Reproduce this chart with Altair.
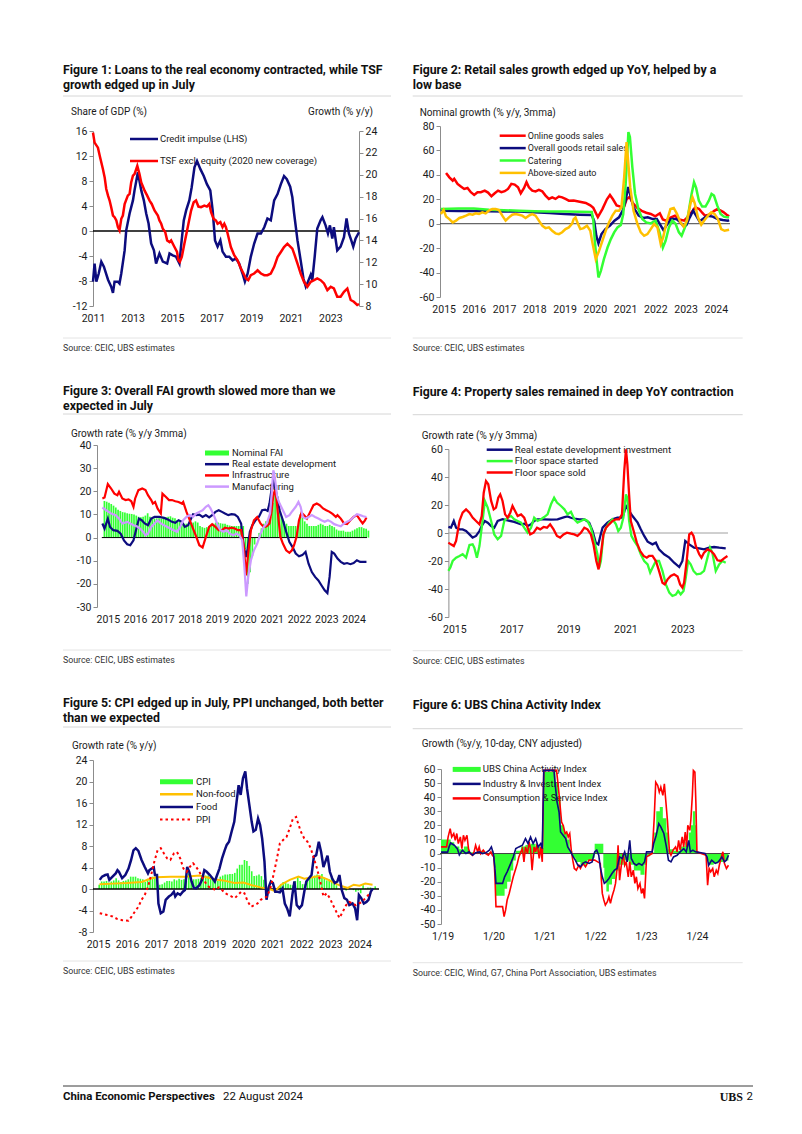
import altair as alt
import pandas as pd

# ======================= DATA =======================
# Figure 1: (decimal year, value)
credit_impulse = [(2011.00,-8.1),(2011.08,-5.2),(2011.17,-8.1),(2011.29,-6.8),(2011.42,-4.9),(2011.55,-5.7),(2011.76,-7.8),(2011.92,-8.9),(2012.01,-9.9),(2012.09,-8.1),(2012.26,-8.1),(2012.34,-8.4),(2012.43,-6.8),(2012.60,-3.1),(2012.68,0.1),(2012.85,2.8),(2013.02,4.9),(2013.10,6.5),(2013.27,9.4),(2013.44,6.5),(2013.57,4.9),(2013.69,2.8),(2013.81,1.2),(2013.94,-2.0),(2014.08,-3.1),(2014.19,-5.2),(2014.36,-3.6),(2014.53,-4.9),(2014.75,-5.2),(2014.87,-3.6),(2015.03,-3.9),(2015.20,-4.1),(2015.37,-5.2),(2015.45,-2.5),(2015.59,1.7),(2015.71,3.3),(2015.87,4.9),(2015.99,7.0),(2016.13,10.2),(2016.26,11.2),(2016.43,9.9),(2016.60,8.8),(2016.76,7.5),(2016.93,6.5),(2017.05,3.3),(2017.17,-1.5),(2017.30,-2.5),(2017.44,-1.5),(2017.55,-3.3),(2017.72,-4.1),(2017.89,-4.1),(2018.06,-4.7),(2018.23,-4.4),(2018.39,-5.2),(2018.56,-6.8),(2018.68,-8.1),(2018.82,-6.8),(2018.98,-4.1),(2019.15,-2.0),(2019.32,-0.4),(2019.49,-0.4),(2019.66,0.6),(2019.82,2.0),(2019.99,1.7),(2020.16,4.9),(2020.33,5.9),(2020.50,7.5),(2020.66,8.8),(2020.80,8.3),(2020.97,7.1),(2021.08,5.4),(2021.17,2.8),(2021.34,-1.5),(2021.50,-4.7),(2021.64,-7.6),(2021.76,-8.9),(2021.87,-8.1),(2022.01,-7.0),(2022.09,-7.8),(2022.21,-4.1),(2022.34,0.4),(2022.51,1.7),(2022.60,2.2),(2022.76,0.9),(2022.88,-0.4),(2022.98,0.9),(2023.10,-1.2),(2023.18,0.6),(2023.35,-3.1),(2023.52,-2.5),(2023.69,-1.0),(2023.82,2.0),(2023.94,-0.4),(2024.06,-1.5),(2024.16,-2.5),(2024.28,-1.2),(2024.45,-0.2)]
tsf_growth = [(2011.00,23.85),(2011.08,22.94),(2011.25,22.48),(2011.34,21.73),(2011.50,20.52),(2011.59,19.76),(2011.67,18.7),(2011.76,18.09),(2011.84,17.64),(2011.92,17.03),(2012.01,16.27),(2012.09,16.12),(2012.18,15.82),(2012.26,15.21),(2012.34,14.91),(2012.43,15.97),(2012.51,16.27),(2012.60,17.33),(2012.76,18.09),(2012.85,18.24),(2012.93,19.3),(2013.02,19.91),(2013.10,20.06),(2013.24,20.82),(2013.35,20.06),(2013.44,19.3),(2013.61,18.55),(2013.74,18.09),(2013.86,17.64),(2013.97,17.33),(2014.11,16.73),(2014.28,16.27),(2014.36,15.82),(2014.45,15.52),(2014.53,15.06),(2014.65,14.76),(2014.75,14.0),(2014.87,13.85),(2014.95,14.0),(2015.12,13.39),(2015.25,12.94),(2015.32,12.18),(2015.39,12.03),(2015.49,12.48),(2015.62,13.7),(2015.79,15.21),(2015.96,16.73),(2016.09,17.48),(2016.21,17.64),(2016.33,17.09),(2016.46,17.03),(2016.63,17.18),(2016.76,17.09),(2016.88,17.33),(2016.97,16.58),(2017.10,15.97),(2017.22,15.82),(2017.30,15.52),(2017.44,15.67),(2017.55,15.21),(2017.64,15.52),(2017.72,15.21),(2017.81,14.61),(2017.97,13.39),(2018.14,12.64),(2018.31,12.18),(2018.48,11.42),(2018.61,10.97),(2018.73,10.52),(2018.85,10.36),(2018.98,10.82),(2019.15,10.97),(2019.32,11.27),(2019.49,10.97),(2019.66,10.82),(2019.82,10.82),(2019.99,10.97),(2020.16,11.58),(2020.33,12.48),(2020.50,12.94),(2020.66,13.39),(2020.83,13.7),(2021.00,13.39),(2021.08,13.24),(2021.17,12.79),(2021.34,11.88),(2021.50,10.97),(2021.67,10.21),(2021.84,9.76),(2022.01,10.21),(2022.18,10.36),(2022.34,10.52),(2022.51,10.36),(2022.68,10.06),(2022.85,9.45),(2023.02,9.76),(2023.18,9.6),(2023.35,8.85),(2023.52,8.85),(2023.69,9.3),(2023.86,9.6),(2024.03,8.55),(2024.19,8.39),(2024.36,8.09),(2024.45,8.18)]

# Figure 2
online_sales = [(2015.08,41.6),(2015.19,38),(2015.30,35.3),(2015.35,36.7),(2015.46,32.6),(2015.57,30.4),(2015.68,28.5),(2015.79,29.3),(2015.90,25.8),(2016.01,23.6),(2016.12,25.8),(2016.23,25.8),(2016.36,27.1),(2016.47,25.5),(2016.58,22.5),(2016.69,24.9),(2016.80,27.1),(2016.91,25.8),(2017.02,26.6),(2017.13,28.5),(2017.24,32.6),(2017.35,32),(2017.46,29.8),(2017.55,24.9),(2017.66,29.3),(2017.74,34),(2017.82,29.8),(2017.93,27.1),(2018.04,26.5),(2018.15,27.7),(2018.26,26.6),(2018.37,23),(2018.48,20.3),(2018.59,21.6),(2018.70,20.3),(2018.81,22.2),(2018.92,21.6),(2019.03,20.3),(2019.14,18.9),(2019.3,19),(2019.5,18),(2019.7,17),(2019.85,15),(2019.95,13),(2020.1,5.5),(2020.25,12),(2020.4,20),(2020.5,23.5),(2020.6,20),(2020.72,15),(2020.85,14),(2020.95,12.5),(2021.05,20),(2021.15,22),(2021.25,17),(2021.4,13),(2021.55,10.5),(2021.7,9),(2021.85,8),(2022.0,6),(2022.15,8.5),(2022.25,3.5),(2022.35,2.5),(2022.5,5),(2022.65,6.5),(2022.8,3.5),(2022.95,2.5),(2023.05,5),(2023.15,8),(2023.25,11),(2023.32,13.5),(2023.45,12),(2023.55,9),(2023.65,6.5),(2023.8,7.5),(2023.95,10.5),(2024.05,12),(2024.15,11),(2024.25,9.5),(2024.35,7.5),(2024.44,6)]
overall_retail = [(2014.91,12),(2015.02,10.7),(2015.5,10.5),(2016.0,10.5),(2016.5,10.2),(2017.0,10),(2017.5,10),(2018.0,9.3),(2018.5,8.8),(2019.0,8),(2019.5,7.4),(2019.9,7.1),(2019.98,2),(2020.05,-10),(2020.12,-16),(2020.22,-8.5),(2020.35,-4.4),(2020.5,-1.6),(2020.65,2.5),(2020.8,5.2),(2020.92,10.7),(2021.02,19),(2021.1,30),(2021.17,24),(2021.28,13.4),(2021.45,6.6),(2021.6,4.7),(2021.75,5.2),(2021.92,3.8),(2022.05,3.8),(2022.18,-1.6),(2022.27,-5.2),(2022.38,-1),(2022.52,3.8),(2022.7,3.8),(2022.83,1.1),(2022.95,-2.5),(2023.03,-1),(2023.14,5.2),(2023.25,10.7),(2023.35,6.6),(2023.46,2),(2023.57,3.8),(2023.73,6.6),(2023.9,5.8),(2024.06,3.8),(2024.23,3),(2024.4,2.5),(2024.44,3)]
catering = [(2014.91,12),(2015.5,12.5),(2016.0,12.5),(2016.5,11.5),(2017.0,11),(2017.5,10.7),(2018.0,10.2),(2018.5,9.9),(2019.0,9.9),(2019.5,9.8),(2019.9,9.6),(2019.95,2.5),(2020.0,-14),(2020.06,-30.4),(2020.12,-44),(2020.2,-38.6),(2020.3,-29),(2020.42,-19.5),(2020.53,-12.6),(2020.64,-7.1),(2020.75,-3),(2020.86,-1),(2020.94,7.9),(2021.02,32.6),(2021.08,60),(2021.11,75),(2021.16,71),(2021.24,46.3),(2021.33,24.4),(2021.44,12),(2021.57,3.8),(2021.7,1.1),(2021.85,0.3),(2022.01,2.5),(2022.14,-7.1),(2022.25,-19.5),(2022.34,-14),(2022.45,-3),(2022.56,2.5),(2022.67,0),(2022.78,-7.1),(2022.87,-9.9),(2022.98,-3),(2023.09,7.9),(2023.2,24.4),(2023.28,34),(2023.35,29.3),(2023.44,18.9),(2023.55,14),(2023.66,14),(2023.77,18.9),(2023.86,24.4),(2023.94,23),(2024.05,14.8),(2024.16,7.9),(2024.27,5.8),(2024.38,5.2),(2024.44,5.2)]
auto_sales = [(2014.91,7.9),(2015.0,11.2),(2015.08,6),(2015.19,3.8),(2015.3,1.1),(2015.41,2.5),(2015.52,4.7),(2015.63,5.5),(2015.74,6.6),(2015.85,7.9),(2015.96,7.4),(2016.06,8.5),(2016.17,8),(2016.28,9.3),(2016.39,8.5),(2016.5,10.7),(2016.61,12),(2016.72,12),(2016.83,11.2),(2016.94,6.6),(2017.05,2.5),(2017.16,5.2),(2017.27,7.4),(2017.38,7.9),(2017.49,7.4),(2017.6,6.6),(2017.71,4.7),(2017.82,6.6),(2017.93,7.9),(2018.04,6.6),(2018.15,2.5),(2018.26,-1.6),(2018.37,-3.6),(2018.48,-3),(2018.59,-5.8),(2018.7,-7.9),(2018.81,-8.5),(2018.92,-7),(2019.03,-4.4),(2019.14,-3),(2019.25,0),(2019.3,3.8),(2019.36,5.2),(2019.44,0),(2019.52,-4.4),(2019.63,-3.6),(2019.74,-1.6),(2019.85,-5.8),(2019.92,-15.3),(2020.03,-29),(2020.14,-22.2),(2020.25,-14),(2020.36,-5.8),(2020.47,1.1),(2020.58,6.6),(2020.69,10.7),(2020.8,10.7),(2020.88,13.4),(2020.97,38),(2021.03,60),(2021.05,66.8),(2021.1,51.8),(2021.17,29.9),(2021.28,10.7),(2021.41,-0.3),(2021.52,-7.1),(2021.63,-9.9),(2021.74,-8.5),(2021.85,-4.4),(2021.96,-0.3),(2022.07,-3),(2022.18,-16.7),(2022.26,-11.2),(2022.37,1.1),(2022.5,12),(2022.61,12.9),(2022.72,7.9),(2022.83,1.1),(2022.94,-2.5),(2023.05,2.5),(2023.16,16.2),(2023.23,21.6),(2023.3,17),(2023.41,5.2),(2023.52,-0.8),(2023.63,3),(2023.74,6.6),(2023.85,9.3),(2023.96,8),(2024.07,3.8),(2024.18,-4.4),(2024.29,-5.8),(2024.44,-4.9)]

# Figure 3 (nominal FAI monthly, from Nov 2014)
fai_nominal = [15.8, 15.5,
               15.0, 14.5, 13.8, 13.0, 12.0, 11.5, 11.0, 10.8, 10.5, 10.3, 10.2, 10.0,
               9.5, 9.0, 8.8, 9.0, 9.5, 10.5, 9.0, 8.0, 8.2, 8.3, 8.3, 8.2,
               8.5, 8.8, 9.0, 9.2, 8.6, 8.3, 7.5, 7.0, 6.5, 6.0, 6.0, 5.5,
               6.0, 6.5, 7.0, 6.5, 5.0, 4.5, 4.2, 4.5, 5.0, 5.5, 6.0, 6.5,
               6.5, 6.2, 6.0, 6.0, 5.5, 5.2, 5.0, 5.0, 5.0, 5.0, 5.0, 5.0,
               -5.0, -20.0, -15.0, -8.0, -3.0, 0.0, 2.0, 4.0, 6.0, 7.0, 8.0, 9.0,
               15.0, 25.0, 18.0, 12.0, 9.0, 7.0, 6.0, 5.0, 5.0, 5.0, 5.0, 5.0,
               10.0, 9.0, 7.0, 6.0, 5.0, 5.0, 5.0, 5.0, 5.5, 6.0, 5.5, 5.0,
               5.0, 5.5, 5.0, 4.5, 3.5, 3.0, 3.0, 3.0, 2.5, 2.5, 2.5, 3.0,
               3.5, 4.0, 4.5, 4.5, 4.0, 3.8, 3.0]
fai_real_estate = [(2014.80,6.1),(2014.88,3.9),(2015.00,8.2),(2015.08,4.6),(2015.20,3.2),(2015.35,2.9),(2015.47,1.7),(2015.59,-1.2),(2015.71,-2.9),(2015.82,-3.3),(2015.94,-1.2),(2016.06,4.6),(2016.14,8.2),(2016.24,7.5),(2016.35,6.1),(2016.47,5.3),(2016.59,8.2),(2016.71,8.9),(2016.88,8.9),(2017.06,8.5),(2017.20,7.8),(2017.35,6.8),(2017.47,6.4),(2017.59,7.5),(2017.71,6.8),(2017.82,4.6),(2017.94,5.3),(2018.02,7.5),(2018.12,10.1),(2018.24,9.7),(2018.35,9.9),(2018.47,8.9),(2018.59,9.7),(2018.71,8.7),(2018.82,9.7),(2018.94,11.1),(2019.06,11.8),(2019.18,11.1),(2019.29,10.4),(2019.41,9.7),(2019.53,10.1),(2019.65,9.9),(2019.76,8.9),(2019.88,6.1),(2019.98,-4.0),(2020.06,-8.4),(2020.12,-4.8),(2020.20,2.5),(2020.29,5.3),(2020.41,7.5),(2020.53,8.9),(2020.65,11.8),(2020.76,12.1),(2020.85,11.5),(2020.92,14.7),(2021.00,21.2),(2021.06,24.1),(2021.12,22.0),(2021.20,17.6),(2021.29,11.8),(2021.41,7.5),(2021.53,2.5),(2021.65,-1.9),(2021.76,-4.0),(2021.88,-6.9),(2022.00,-8.1),(2022.12,-7.6),(2022.24,-6.2),(2022.35,-11.3),(2022.47,-14.9),(2022.59,-17.0),(2022.71,-18.5),(2022.82,-20.6),(2022.94,-22.8),(2023.04,-24.0),(2023.12,-17.0),(2023.20,-6.2),(2023.29,-6.9),(2023.41,-9.1),(2023.53,-10.5),(2023.65,-11.3),(2023.76,-11.0),(2023.88,-11.5),(2024.00,-11.0),(2024.12,-9.8),(2024.24,-10.5),(2024.35,-10.5),(2024.47,-10.5)]
fai_infra = [(2014.80,16.9),(2014.88,17.3),(2015.00,23.1),(2015.12,21.2),(2015.24,19.0),(2015.35,18.3),(2015.41,19.8),(2015.53,16.9),(2015.65,16.2),(2015.76,16.5),(2015.86,15.7),(2015.94,13.3),(2016.00,16.9),(2016.12,20.5),(2016.26,21.2),(2016.38,20.5),(2016.47,18.3),(2016.59,16.2),(2016.65,14.7),(2016.73,15.4),(2016.82,12.6),(2016.94,10.4),(2017.00,19.0),(2017.12,17.6),(2017.24,16.2),(2017.35,16.2),(2017.47,15.7),(2017.59,15.4),(2017.71,14.7),(2017.76,15.4),(2017.88,11.1),(2018.00,7.5),(2018.12,3.9),(2018.24,0.3),(2018.35,-3.3),(2018.47,-4.3),(2018.59,0.3),(2018.71,4.6),(2018.82,5.8),(2018.94,4.6),(2019.06,3.2),(2019.18,3.2),(2019.29,4.3),(2019.41,3.9),(2019.53,4.3),(2019.65,3.9),(2019.76,3.2),(2019.88,3.2),(2019.98,-4.0),(2020.06,-16.3),(2020.14,-6.9),(2020.24,3.2),(2020.35,7.5),(2020.47,8.9),(2020.59,6.1),(2020.71,4.6),(2020.82,4.9),(2020.92,6.1),(2021.00,11.8),(2021.06,18.3),(2021.12,20.5),(2021.18,16.2),(2021.24,8.9),(2021.32,0.3),(2021.41,-2.6),(2021.53,-5.5),(2021.65,-6.6),(2021.74,-5.5),(2021.82,-3.3),(2021.91,0.3),(2022.00,7.5),(2022.09,10.7),(2022.18,9.7),(2022.29,8.2),(2022.41,11.1),(2022.53,14.0),(2022.65,14.7),(2022.76,14.0),(2022.88,12.6),(2023.00,11.8),(2023.12,11.1),(2023.24,10.1),(2023.35,8.9),(2023.41,9.7),(2023.53,8.2),(2023.65,6.1),(2023.76,5.8),(2023.88,7.5),(2024.00,8.9),(2024.12,9.7),(2024.24,7.5),(2024.33,6.1),(2024.41,7.3),(2024.47,8.7)]
fai_mfg = [(2014.80,13.0),(2014.94,11.8),(2015.12,10.4),(2015.29,9.7),(2015.41,8.2),(2015.53,6.1),(2015.71,6.8),(2015.82,6.1),(2015.94,5.3),(2016.06,4.9),(2016.18,3.9),(2016.29,2.5),(2016.38,1.0),(2016.47,1.7),(2016.59,4.6),(2016.71,6.1),(2016.82,7.5),(2016.94,6.1),(2017.06,5.3),(2017.18,4.6),(2017.29,3.9),(2017.41,3.2),(2017.53,2.5),(2017.65,4.6),(2017.76,7.5),(2017.88,8.9),(2018.00,9.7),(2018.12,8.9),(2018.24,10.4),(2018.35,11.1),(2018.47,11.8),(2018.59,13.3),(2018.68,14.0),(2018.76,12.6),(2018.88,9.7),(2019.00,6.1),(2019.12,3.2),(2019.24,2.5),(2019.35,3.2),(2019.47,1.7),(2019.59,1.0),(2019.71,1.7),(2019.82,1.0),(2019.92,-1.2),(2020.00,-12.7),(2020.07,-25.4),(2020.14,-17.0),(2020.24,-9.8),(2020.35,-5.5),(2020.47,-2.6),(2020.59,1.7),(2020.71,4.6),(2020.82,6.1),(2020.94,10.4),(2021.00,19.0),(2021.06,29.1),(2021.12,25.5),(2021.20,17.6),(2021.29,14.7),(2021.41,11.8),(2021.53,8.9),(2021.65,9.7),(2021.76,11.5),(2021.88,13.3),(2021.98,15.4),(2022.06,13.3),(2022.14,8.9),(2022.24,8.2),(2022.35,8.9),(2022.47,9.7),(2022.59,8.9),(2022.71,8.2),(2022.82,7.5),(2022.94,6.8),(2023.06,7.5),(2023.18,6.8),(2023.29,5.8),(2023.41,5.3),(2023.53,4.9),(2023.65,6.1),(2023.76,6.8),(2023.88,7.5),(2024.00,8.9),(2024.12,10.1),(2024.24,9.7),(2024.35,9.2),(2024.47,8.9)]

# Figure 4
prop_investment = [(2014.79,4.3),(2014.88,3.8),(2014.98,8.6),(2015.06,3.8),(2015.18,2.6),(2015.29,2.6),(2015.41,1.4),(2015.53,-1.0),(2015.64,-3.3),(2015.76,-2.1),(2015.88,1.4),(2015.96,5.0),(2016.07,8.6),(2016.17,7.4),(2016.29,5.0),(2016.40,3.8),(2016.52,8.6),(2016.69,9.8),(2016.87,9.0),(2017.10,7.9),(2017.34,6.2),(2017.45,6.7),(2017.57,5.0),(2017.69,6.2),(2017.80,8.6),(2017.92,9.8),(2018.15,9.8),(2018.39,9.5),(2018.62,9.8),(2018.86,11.4),(2018.97,11.9),(2019.09,10.9),(2019.21,10.2),(2019.38,9.8),(2019.56,9.8),(2019.73,7.4),(2019.85,1.4),(2019.96,-6.9),(2020.05,-8.1),(2020.12,-2.1),(2020.20,3.8),(2020.37,7.4),(2020.55,9.8),(2020.72,11.0),(2020.90,11.0),(2021.02,19.3),(2021.13,15.7),(2021.25,12.1),(2021.43,7.4),(2021.54,2.6),(2021.66,-2.1),(2021.78,-6.2),(2021.95,-8.1),(2022.07,-6.9),(2022.18,-11.7),(2022.36,-15.2),(2022.54,-17.6),(2022.71,-21.2),(2022.89,-24.3),(2023.0,-20.0),(2023.10,-5.7),(2023.24,-8.1),(2023.41,-10.5),(2023.59,-11.0),(2023.76,-11.7),(2023.94,-10.5),(2024.11,-10.0),(2024.29,-10.5),(2024.52,-11.0)]
prop_started = [(2014.79,-27.0),(2014.86,-24.6),(2014.94,-20.0),(2015.06,-17.6),(2015.18,-16.4),(2015.29,-15.2),(2015.41,-17.6),(2015.53,-8.6),(2015.64,-8.1),(2015.70,-10.5),(2015.79,-17.6),(2015.88,-9.3),(2015.99,8.6),(2016.07,22.9),(2016.17,18.1),(2016.29,8.6),(2016.40,-1.0),(2016.52,-4.5),(2016.64,-2.1),(2016.75,8.6),(2016.87,11.0),(2016.99,12.1),(2017.10,9.8),(2017.22,8.6),(2017.34,7.4),(2017.45,3.8),(2017.57,0.2),(2017.69,3.8),(2017.80,11.0),(2017.92,8.6),(2018.04,9.8),(2018.15,11.4),(2018.27,13.3),(2018.39,20.5),(2018.50,25.2),(2018.60,21.7),(2018.74,19.3),(2018.86,16.9),(2018.97,13.3),(2019.09,15.2),(2019.21,9.8),(2019.32,7.4),(2019.44,8.6),(2019.56,9.8),(2019.67,8.6),(2019.79,3.8),(2019.91,-5.7),(2020.02,-15.2),(2020.08,-24.8),(2020.14,-20.0),(2020.23,-1.0),(2020.32,3.8),(2020.43,7.4),(2020.55,9.8),(2020.67,6.2),(2020.75,1.4),(2020.84,3.8),(2020.93,11.0),(2021.02,27.6),(2021.07,25.0),(2021.13,8.6),(2021.21,-2.1),(2021.31,-5.7),(2021.43,-9.3),(2021.54,-15.2),(2021.66,-20.0),(2021.78,-22.4),(2021.87,-28.3),(2021.95,-24.8),(2022.07,-20.0),(2022.18,-20.0),(2022.30,-27.1),(2022.42,-36.7),(2022.54,-42.6),(2022.65,-45.0),(2022.77,-44.0),(2022.85,-41.4),(2022.94,-43.8),(2023.04,-41.4),(2023.12,-31.9),(2023.20,-20.0),(2023.29,-22.4),(2023.39,-27.1),(2023.50,-29.5),(2023.64,-29.0),(2023.76,-27.1),(2023.88,-17.6),(2023.97,-10.5),(2024.05,-14.0),(2024.17,-27.1),(2024.29,-22.4),(2024.40,-20.0),(2024.52,-21.2)]
prop_sold = [(2014.79,-6.9),(2014.88,-8.1),(2014.98,-9.3),(2015.06,-5.7),(2015.18,8.6),(2015.29,14.5),(2015.41,16.9),(2015.53,14.5),(2015.64,11.0),(2015.76,8.6),(2015.88,6.2),(2015.96,12.1),(2016.03,28.8),(2016.11,37.1),(2016.19,34.8),(2016.29,22.9),(2016.38,16.9),(2016.46,18.1),(2016.54,25.2),(2016.61,27.6),(2016.69,22.9),(2016.78,13.3),(2016.87,11.0),(2016.96,14.5),(2017.04,19.3),(2017.13,15.7),(2017.22,12.1),(2017.34,13.3),(2017.45,11.0),(2017.57,3.8),(2017.66,-1.0),(2017.78,0.2),(2017.90,3.8),(2018.01,2.6),(2018.13,4.3),(2018.25,3.8),(2018.36,6.2),(2018.48,2.6),(2018.60,-2.1),(2018.71,-3.3),(2018.83,-1.0),(2018.95,0.2),(2019.09,-0.5),(2019.21,-1.0),(2019.32,-2.1),(2019.44,0.2),(2019.56,3.8),(2019.67,2.6),(2019.79,-1.0),(2019.88,-8.1),(2019.98,-20.0),(2020.06,-26.0),(2020.14,-15.2),(2020.23,-1.0),(2020.32,3.8),(2020.43,6.2),(2020.55,8.6),(2020.67,9.8),(2020.78,9.8),(2020.88,13.3),(2020.96,44.3),(2021.02,59.8),(2021.07,49.0),(2021.13,27.6),(2021.19,8.6),(2021.29,1.4),(2021.40,-6.9),(2021.52,-12.9),(2021.64,-16.4),(2021.75,-17.6),(2021.83,-16.4),(2021.95,-16.4),(2022.07,-20.0),(2022.18,-27.1),(2022.30,-35.5),(2022.38,-36.7),(2022.48,-33.1),(2022.59,-30.7),(2022.71,-29.5),(2022.83,-31.0),(2022.92,-36.7),(2023.0,-39.0),(2023.06,-35.5),(2023.15,-20.0),(2023.24,-1.0),(2023.32,0.2),(2023.39,-2.1),(2023.47,-9.3),(2023.59,-15.2),(2023.67,-17.6),(2023.76,-14.0),(2023.88,-11.7),(2024.0,-12.9),(2024.11,-15.2),(2024.23,-19.5),(2024.35,-20.0),(2024.46,-18.1),(2024.58,-16.4)]

# Figure 5 (CPI monthly, from Jan 2015)
cpi_headline = [0.8, 1.4, 1.4, 1.5, 1.2, 1.4, 1.6, 2.0, 1.6, 1.3, 1.5, 1.6,
                1.8, 2.3, 2.3, 2.3, 2.0, 1.9, 1.8, 1.3, 1.9, 2.1, 2.3, 2.1,
                2.5, 0.8, 0.9, 1.2, 1.5, 1.5, 1.4, 1.8, 1.6, 1.9, 1.7, 1.8,
                1.5, 2.9, 2.1, 1.8, 1.8, 1.9, 2.1, 2.3, 2.5, 2.5, 2.2, 1.9,
                1.7, 1.5, 2.3, 2.5, 2.7, 2.7, 2.8, 2.8, 3.0, 3.8, 4.5, 4.5,
                5.4, 5.2, 4.3, 3.3, 2.4, 2.5, 2.7, 2.4, 1.7, 0.5, -0.5, 0.2,
                -0.3, -0.2, 0.4, 0.9, 1.3, 1.1, 1.0, 0.8, 0.7, 1.5, 2.3, 1.5,
                0.9, 0.9, 1.5, 2.1, 2.1, 2.5, 2.7, 2.5, 2.8, 2.1, 1.6, 1.8,
                2.1, 1.0, 0.7, 0.1, 0.2, 0.0, -0.3, 0.1, 0.0, -0.2, -0.5, -0.3,
                -0.8, 0.7, 0.1, 0.3, 0.3, 0.2, 0.5]
cpi_nonfood = [(2015.05,0.9),(2015.5,1.0),(2016.0,1.1),(2016.5,1.3),(2016.8,1.9),(2017.0,2.2),(2017.5,2.3),(2018.0,2.3),(2018.5,2.5),(2019.0,1.8),(2019.3,1.6),(2019.7,1.1),(2020.0,1.2),(2020.3,0.7),(2020.6,0.3),(2020.9,0.0),(2021.1,-0.4),(2021.3,0.8),(2021.6,1.7),(2021.9,2.3),(2022.1,1.9),(2022.4,2.2),(2022.6,2.4),(2022.9,1.8),(2023.1,1.2),(2023.4,0.5),(2023.6,0.2),(2023.8,0.8),(2024.0,0.6),(2024.2,1.0),(2024.45,0.8)]
cpi_food = [(2015.06,1.7),(2015.14,2.3),(2015.25,2.6),(2015.33,2.7),(2015.39,1.7),(2015.50,2.3),(2015.61,2.9),(2015.67,3.5),(2015.72,3.2),(2015.83,2.0),(2015.94,2.6),(2016.05,3.8),(2016.14,5.4),(2016.22,7.2),(2016.30,7.6),(2016.39,7.1),(2016.50,5.4),(2016.61,4.1),(2016.72,2.9),(2016.77,3.5),(2016.85,3.8),(2016.92,4.0),(2016.96,2.6),(2017.03,2.6),(2017.08,-2.7),(2017.16,-4.5),(2017.25,-4.2),(2017.33,-2.0),(2017.44,-1.4),(2017.52,-1.1),(2017.61,-0.5),(2017.66,-1.4),(2017.74,-0.8),(2017.83,-1.1),(2017.92,-0.5),(2017.99,-0.2),(2018.07,4.1),(2018.14,3.2),(2018.22,1.4),(2018.30,0.2),(2018.38,0.1),(2018.49,0.7),(2018.58,1.7),(2018.66,3.5),(2018.74,3.2),(2018.85,2.6),(2018.94,2.0),(2019.02,1.4),(2019.10,2.6),(2019.18,3.8),(2019.27,5.7),(2019.36,7.2),(2019.43,8.2),(2019.51,8.8),(2019.60,10.7),(2019.69,12.5),(2019.77,16.2),(2019.84,19.3),(2019.91,17.5),(2019.99,20.6),(2020.07,21.9),(2020.13,18.7),(2020.21,15.6),(2020.29,12.5),(2020.35,10.7),(2020.43,11.0),(2020.51,13.1),(2020.58,11.9),(2020.65,9.4),(2020.73,5.1),(2020.80,-2.0),(2020.88,0.4),(2020.95,1.4),(2021.02,1.1),(2021.10,-0.5),(2021.18,-0.5),(2021.26,-0.6),(2021.35,0.1),(2021.43,-2.7),(2021.51,-3.6),(2021.60,-5.1),(2021.69,-1.1),(2021.76,1.4),(2021.84,-3.0),(2021.93,-3.6),(2022.02,-3.0),(2022.10,-0.5),(2022.17,1.4),(2022.26,2.0),(2022.35,2.6),(2022.43,6.0),(2022.51,6.3),(2022.60,8.8),(2022.68,6.9),(2022.76,4.1),(2022.82,5.0),(2022.90,6.2),(2022.98,3.2),(2023.06,2.0),(2023.15,1.1),(2023.24,1.4),(2023.31,2.6),(2023.39,-0.2),(2023.48,-1.7),(2023.57,-2.0),(2023.65,-3.0),(2023.76,-2.7),(2023.85,-3.6),(2023.92,-5.8),(2023.98,-1.1),(2024.06,-1.7),(2024.15,-2.7),(2024.24,-2.4),(2024.31,-2.0),(2024.39,-0.5),(2024.46,0.1)]
ppi = [(2015.06,-4.5),(2015.28,-4.8),(2015.50,-5.1),(2015.67,-5.6),(2015.83,-5.8),(2016.05,-5.9),(2016.16,-5.1),(2016.27,-4.2),(2016.39,-3.3),(2016.50,-2.0),(2016.61,-1.1),(2016.72,0.4),(2016.83,2.6),(2016.94,5.1),(2017.05,7.2),(2017.16,7.6),(2017.27,6.6),(2017.38,5.7),(2017.49,5.4),(2017.61,6.6),(2017.72,6.9),(2017.83,5.7),(2017.94,3.8),(2018.05,3.2),(2018.16,4.1),(2018.27,4.8),(2018.38,4.1),(2018.49,3.2),(2018.60,2.0),(2018.71,1.1),(2018.82,0.4),(2018.94,0.1),(2019.05,-0.2),(2019.16,0.3),(2019.27,-0.2),(2019.38,-0.8),(2019.49,-1.1),(2019.60,-1.4),(2019.71,-1.7),(2019.82,-1.1),(2019.93,-0.5),(2020.04,-0.8),(2020.16,-2.4),(2020.27,-3.3),(2020.38,-3.0),(2020.49,-2.7),(2020.60,-2.0),(2020.71,-1.7),(2020.82,-1.4),(2020.93,0.1),(2021.04,2.6),(2021.15,5.4),(2021.26,8.5),(2021.37,9.1),(2021.49,9.7),(2021.60,11.3),(2021.71,13.1),(2021.82,13.4),(2021.87,12.5),(2021.98,10.7),(2022.10,9.4),(2022.21,8.8),(2022.32,7.6),(2022.43,5.7),(2022.54,3.8),(2022.65,1.4),(2022.76,-1.4),(2022.87,-0.8),(2022.98,-1.7),(2023.09,-3.0),(2023.20,-4.2),(2023.31,-5.4),(2023.43,-4.2),(2023.54,-3.0),(2023.65,-2.4),(2023.76,-2.7),(2023.87,-3.0),(2023.98,-2.7),(2024.09,-2.4),(2024.20,-1.7),(2024.31,-1.1),(2024.42,-0.8)]

# Figure 6
ubs_activity = [(2018.97,10),(2019.10,10),(2019.16,8),(2019.23,5),(2019.33,3),(2019.42,5),(2019.52,1),(2019.62,0),(2019.72,2),(2019.82,0),(2019.92,1),(2019.98,2),(2020.00,-5),(2020.03,-10),(2020.05,-30),(2020.20,-30),(2020.22,-25),(2020.27,-20),(2020.34,-12),(2020.39,-5),(2020.44,2),(2020.54,5),(2020.63,6),(2020.73,7),(2020.83,5),(2020.93,4),(2020.98,58),(2021.19,58),(2021.22,50),(2021.27,40),(2021.32,20),(2021.39,15),(2021.45,10),(2021.50,2),(2021.55,-3),(2021.61,-6),(2021.71,-8),(2021.84,-5),(2021.96,-3),(2021.99,7),(2022.14,7),(2022.16,-10),(2022.18,-20),(2022.22,-27),(2022.27,-22),(2022.33,-18),(2022.40,-12),(2022.46,-8),(2022.56,-5),(2022.66,-8),(2022.76,-12),(2022.89,-15),(2022.97,-8),(2023.01,-2),(2023.08,0),(2023.14,1),(2023.16,15),(2023.20,30),(2023.27,33),(2023.33,25),(2023.40,15),(2023.44,3),(2023.54,2),(2023.67,5),(2023.77,8),(2023.84,15),(2023.88,20),(2023.92,30),(2023.97,20),(2024.00,0),(2024.13,0),(2024.20,-5),(2024.23,-8),(2024.33,-7),(2024.42,-6),(2024.52,-5),(2024.62,-3)]
industry_inv = [(2018.97,1.0),(2019.10,1.0),(2019.13,5.0),(2019.16,7.5),(2019.23,5.9),(2019.29,3.5),(2019.33,-1.0),(2019.39,2.4),(2019.46,0.0),(2019.52,1.2),(2019.59,-1.2),(2019.65,0.5),(2019.72,1.2),(2019.78,0.0),(2019.85,0.5),(2019.92,2.4),(2019.96,4.7),(2020.00,0.0),(2020.03,-10.6),(2020.05,-21.2),(2020.18,-21.2),(2020.22,-16.5),(2020.27,-13.0),(2020.34,-7.0),(2020.39,-2.4),(2020.44,3.5),(2020.50,4.7),(2020.57,5.9),(2020.63,10.6),(2020.68,7.1),(2020.73,11.8),(2020.78,7.1),(2020.83,10.6),(2020.88,4.7),(2020.93,7.1),(2020.96,3.5),(2020.99,59.0),(2021.19,59.0),(2021.22,47.0),(2021.25,36.6),(2021.29,29.5),(2021.32,15.3),(2021.37,13.0),(2021.42,10.6),(2021.46,4.7),(2021.52,1.2),(2021.57,-2.4),(2021.61,-4.7),(2021.66,-8.3),(2021.71,-9.4),(2021.76,-7.0),(2021.81,-5.9),(2021.88,-7.0),(2021.94,-5.9),(2021.99,1.2),(2022.03,2.4),(2022.07,-1.2),(2022.10,-9.4),(2022.14,-16.5),(2022.18,-21.2),(2022.22,-20.0),(2022.27,-17.7),(2022.33,-14.2),(2022.38,-11.8),(2022.43,-10.6),(2022.48,-2.4),(2022.53,-3.5),(2022.58,1.2),(2022.63,-5.9),(2022.68,9.4),(2022.71,-3.5),(2022.76,-7.0),(2022.81,-8.3),(2022.86,-7.0),(2022.92,-8.3),(2022.97,-5.9),(2023.01,1.2),(2023.12,1.2),(2023.15,7.1),(2023.20,13.0),(2023.25,21.2),(2023.29,18.9),(2023.35,14.2),(2023.40,4.7),(2023.44,-4.7),(2023.49,-5.9),(2023.54,-2.4),(2023.61,-1.2),(2023.67,1.2),(2023.74,3.5),(2023.79,1.2),(2023.84,9.4),(2023.87,1.2),(2023.92,2.4),(2023.97,1.2),(2024.16,0.0),(2024.20,-2.4),(2024.23,-8.3),(2024.29,-4.7),(2024.36,-7.0),(2024.42,-5.9),(2024.49,-2.4),(2024.54,-5.9),(2024.58,-4.7),(2024.62,-1.2)]
consumption_serv = [(2018.97,4.7),(2019.08,4.7),(2019.11,11.8),(2019.15,17.7),(2019.18,11.8),(2019.22,14.2),(2019.25,9.4),(2019.28,14.2),(2019.31,7.1),(2019.35,11.8),(2019.38,3.5),(2019.41,13.0),(2019.44,9.4),(2019.48,13.0),(2019.51,3.5),(2019.54,0.0),(2019.59,-1.2),(2019.62,1.2),(2019.65,5.9),(2019.69,1.2),(2019.72,4.7),(2019.75,0.0),(2019.80,2.4),(2019.85,0.0),(2019.90,-1.2),(2019.95,1.2),(2019.98,-1.2),(2020.01,-2.4),(2020.03,-16.5),(2020.05,-37.7),(2020.18,-37.7),(2020.21,-44.8),(2020.24,-40.0),(2020.27,-33.0),(2020.31,-28.3),(2020.35,-22.4),(2020.39,-16.5),(2020.44,-10.6),(2020.47,-7.0),(2020.50,-2.4),(2020.54,1.2),(2020.57,3.5),(2020.60,-5.9),(2020.63,4.7),(2020.67,0.0),(2020.70,8.3),(2020.73,3.5),(2020.76,-11.8),(2020.80,4.7),(2020.83,1.2),(2020.86,7.1),(2020.90,-3.5),(2020.93,4.7),(2020.96,-5.9),(2020.99,59.0),(2021.24,59.0),(2021.27,49.5),(2021.31,34.2),(2021.34,22.4),(2021.37,20.0),(2021.41,14.2),(2021.44,15.3),(2021.47,11.8),(2021.50,14.2),(2021.53,2.4),(2021.56,-4.7),(2021.59,-10.6),(2021.63,-11.8),(2021.68,-8.3),(2021.71,-10.6),(2021.76,-7.0),(2021.81,-9.4),(2021.88,-4.7),(2021.99,-4.7),(2022.10,-7.0),(2022.14,-28.3),(2022.17,-33.0),(2022.20,-36.6),(2022.24,-34.2),(2022.27,-30.7),(2022.30,-35.4),(2022.33,-30.7),(2022.37,-25.9),(2022.40,-21.2),(2022.43,-10.6),(2022.45,5.9),(2022.48,-18.9),(2022.51,-9.4),(2022.55,0.0),(2022.58,-8.3),(2022.61,-5.9),(2022.65,-16.5),(2022.68,-5.9),(2022.71,-16.5),(2022.75,-11.8),(2022.78,-21.2),(2022.81,-16.5),(2022.84,-24.8),(2022.88,-21.2),(2022.91,-28.3),(2022.94,-24.8),(2022.97,-31.8),(2023.01,-2.4),(2023.12,0.0),(2023.16,24.8),(2023.19,50.7),(2023.23,48.3),(2023.26,43.6),(2023.29,47.2),(2023.33,41.3),(2023.36,49.5),(2023.39,36.6),(2023.42,23.6),(2023.46,1.2),(2023.49,-1.2),(2023.53,2.4),(2023.58,4.7),(2023.61,1.2),(2023.64,9.4),(2023.67,2.4),(2023.71,11.8),(2023.74,4.7),(2023.77,15.3),(2023.80,4.7),(2023.82,20.0),(2023.86,16.5),(2023.88,23.6),(2023.91,41.3),(2023.93,59.0),(2023.96,57.8),(2023.98,35.4),(2024.00,1.2),(2024.18,-1.2),(2024.21,-22.4),(2024.24,-10.6),(2024.27,-13.0),(2024.31,-10.6),(2024.34,-16.5),(2024.38,-11.8),(2024.41,-14.2),(2024.44,-8.3),(2024.48,-2.4),(2024.51,1.2),(2024.54,-7.0),(2024.58,-10.6),(2024.62,-8.3)]

# Text
titles = [
    "Figure 1: Loans to the real economy contracted, while TSF\ngrowth edged up in July",
    "Figure 2: Retail sales growth edged up YoY, helped by a\nlow base",
    "Figure 3: Overall FAI growth slowed more than we\nexpected in July",
    "Figure 4: Property sales remained in deep YoY contraction",
    "Figure 5: CPI edged up in July, PPI unchanged, both better\nthan we expected",
    "Figure 6: UBS China Activity Index",
]
sources = ["Source: CEIC, UBS estimates"] * 5 + ["Source: CEIC, Wind, G7, China Port Association, UBS estimates"]
legend1 = ["Credit impulse (LHS)", "TSF excl. equity (2020 new coverage)"]
legend2 = ["Online goods sales", "Overall goods retail sales", "Catering", "Above-sized auto"]
legend3 = ["Nominal FAI", "Real estate development", "Infrastructure", "Manufacturing"]
legend4 = ["Real estate development investment", "Floor space started", "Floor space sold"]
legend5 = ["CPI", "Non-food", "Food", "PPI"]
legend6 = ["UBS China Activity Index", "Industry & Investment Index", "Consumption & Service Index"]

# ======================= STYLE / LAYOUT =======================
FONT = "Roboto"
INK = "#1A1A1A"
NAVY = "#0C0C7E"
RED = "#FF0000"
GREEN = "#33FF33"
YELLOW = "#FFC000"
LAV = "#CC99FF"
GREY = "#8C8C8C"

ORIGIN_X = [92, 437.3]          # shared plot-origin x of each column (page px)
COL_LEFT = [62, 410]
COL_RIGHT = [390, 740]
TITLE_TOP = [64, 385, 697]
TITLE_RULE = [96, 414, 727]
SRC_RULE = [338, 650, 961]
SRC_TOP = [344, 656, 967]
GAP = 32
MINUS_FIX = "replace(datum.label, '\u2212', '-')"


def pts(pairs):
    return pd.DataFrame(pairs, columns=["t", "v"])


def months(values, year, month):
    t = [year + (month - 1 + i + 0.5) / 12 for i in range(len(values))]
    return pd.DataFrame({"t": t, "v": values})


def xaxis(ticks, expr=None):
    ax = dict(values=list(ticks), format="d", title=None, domain=False, ticks=False, grid=False,
              labelFont=FONT, labelFontSize=10.5, labelColor=INK, labelPadding=7,
              labelFlush=False, labelOverlap=False)
    if expr:
        ax["labelExpr"] = expr
    return alt.Axis(**ax)


def xenc(d0, d1, ticks, expr=None, field="t"):
    return alt.X(f"{field}:Q", scale=alt.Scale(domain=[d0, d1], nice=False, zero=False),
                 axis=xaxis(ticks, expr))


def yenc(d0, d1, ticks, orient="left", offset=0):
    ax = alt.Axis(values=list(ticks), title=None, orient=orient, grid=False, domain=True,
                  domainColor=GREY, ticks=True, tickColor=GREY, tickSize=4,
                  labelFont=FONT, labelFontSize=10.5, labelColor=INK, labelPadding=2,
                  labelOverlap=False, format="d", labelExpr=MINUS_FIX, offset=offset)
    return alt.Y("v:Q", scale=alt.Scale(domain=[d0, d1], nice=False, zero=False), axis=ax)


def line(data, X, Y, color, width, dash=None):
    kw = dict(color=color, strokeWidth=width)
    if dash:
        kw["strokeDash"] = dash
    return alt.Chart(data).mark_line(**kw).encode(x=X, y=Y)


def zero_rule(Y, color, width, span=None, xargs=None):
    if span is None:
        return alt.Chart(pd.DataFrame({"v": [0]})).mark_rule(color=color, strokeWidth=width).encode(y=Y)
    d = pd.DataFrame({"t0": [span[0]], "t1": [span[1]], "v": [0]})
    return alt.Chart(d).mark_rule(color=color, strokeWidth=width).encode(
        x=xenc(*xargs, field="t0"), x2="t1:Q", y=Y)


def note(text, x, y, size=10, weight="normal", align="left", baseline="middle", color=INK, font=FONT):
    mk = dict(align=align, baseline=baseline, font=font, fontSize=size, fontWeight=weight, color=color)
    if "\n" in text:
        mk.update(lineBreak="\n", lineHeight=15)
    return alt.Chart(pd.DataFrame({"label": [text]})).mark_text(**mk).encode(
        x=alt.value(x), y=alt.value(y), text="label:N")


def hrule(x0, x1, y, color, width=1, dash=None):
    kw = dict(color=color, strokeWidth=width)
    if dash:
        kw["strokeDash"] = dash
    return alt.Chart(pd.DataFrame({"k": [0]})).mark_rule(**kw).encode(
        x=alt.value(x0), x2=alt.value(x1), y=alt.value(y))


def swatch(x0, x1, y, h, color):
    return alt.Chart(pd.DataFrame({"k": [0]})).mark_rect(color=color).encode(
        x=alt.value(x0), x2=alt.value(x1), y=alt.value(y - h / 2), y2=alt.value(y + h / 2))


def legend(labels, styles, origin, sx0, sx1, tx, ry0, dy, size=10):
    X0, Y0 = origin
    out = []
    for i, (label, (color, kind)) in enumerate(zip(labels, styles)):
        y = ry0 + i * dy - Y0
        if kind == "bar":
            out.append(swatch(sx0 - X0, sx1 - X0, y, 5, color))
        elif kind == "dot":
            out.append(hrule(sx0 - X0, sx1 - X0, y, color, 2, [2.5, 3]))
        else:
            out.append(hrule(sx0 - X0, sx1 - X0, y, color, 2.5))
        out.append(note(label, tx - X0, y, size=size))
    return out


def furniture(col, row, origin, title, source, axis_notes):
    X0, Y0 = origin
    L = COL_LEFT[col] - X0
    R = COL_RIGHT[col] - X0
    out = [note(title, L, TITLE_TOP[row] - Y0, size=12.3, weight="bold", baseline="top", color="#111"),
           hrule(L, R, TITLE_RULE[row] - Y0, "#D6D6D6", 1),
           hrule(L, R, SRC_RULE[row] - Y0, "#E4E4E4", 1),
           note(source, L, SRC_TOP[row] - Y0, size=8.8, baseline="top", color="#333")]
    for (label, px, py, align) in axis_notes:
        out.append(note(label, px - X0, py - Y0, size=10, align=align))
    return out


def spacer():
    return alt.Chart(pd.DataFrame({"k": [0]})).mark_rect(opacity=0).encode(
        x=alt.value(0), x2=alt.value(1), y=alt.value(0), y2=alt.value(1)).properties(width=1, height=1)


# ---------------- Figure 1 ----------------
o1 = (ORIGIN_X[0], 131)
X1 = xenc(2011.0, 2024.45, range(2011, 2024, 2))
Y1L = yenc(-12, 16, range(-12, 17, 4))
Y1R = yenc(8, 24, range(8, 25, 2), orient="right")
inner1 = alt.layer(
    zero_rule(Y1L, "#000000", 1.5),
    *legend(legend1, [(NAVY, "line"), (RED, "line")], o1, 129, 157, 159, 139, 22, 9.5),
    line(pts(credit_impulse), X1, Y1L, NAVY, 2.5),
    *furniture(0, 0, o1, titles[0], sources[0],
               [("Share of GDP (%)", 70, 112, "left"), ("Growth (% y/y)", 372, 112, "right")]),
)
fig1 = alt.layer(inner1, line(pts(tsf_growth), X1, Y1R, RED, 2.5)).resolve_scale(
    y="independent").properties(width=266, height=175)

# ---------------- Figure 2 ----------------
o2 = (ORIGIN_X[1], 126)
X2 = xenc(2014.88, 2024.47, range(2015, 2025))
Y2 = yenc(-60, 80, range(-60, 81, 20))
fig2 = alt.layer(
    zero_rule(Y2, "#404040", 1),
    *legend(legend2, [(RED, "line"), (NAVY, "line"), (GREEN, "line"), (YELLOW, "line")],
            o2, 497, 523, 525, 135.7, 12.4, 9),
    line(pts(online_sales), X2, Y2, RED, 2.5),
    line(pts(overall_retail), X2, Y2, NAVY, 2.5),
    line(pts(catering), X2, Y2, GREEN, 2.5),
    line(pts(auto_sales), X2, Y2, YELLOW, 2.5),
    *furniture(1, 0, o2, titles[1], sources[1], [("Nominal growth (% y/y, 3mma)", 417, 113, "left")]),
).properties(width=290, height=171)

# ---------------- Figure 3 ----------------
o3 = (ORIGIN_X[0], 445)
x3args = (2014.64, 2024.49, range(2015, 2025))
X3 = xenc(*x3args)
Y3 = yenc(-30, 40, range(-30, 41, 10), offset=-4)
fig3 = alt.layer(
    alt.Chart(months(fai_nominal, 2014, 11)).mark_bar(size=1.7, color=GREEN).encode(
        x=X3, y=Y3, y2=alt.datum(0)),
    zero_rule(Y3, "#000000", 1, span=(2014.78, 2024.49), xargs=x3args),
    *legend(legend3, [(GREEN, "bar"), (NAVY, "line"), (RED, "line"), (LAV, "line")],
            o3, 204, 228, 231, 453, 11.2, 9.5),
    line(pts(fai_real_estate), X3, Y3, NAVY, 2.2),
    line(pts(fai_infra), X3, Y3, RED, 2.2),
    line(pts(fai_mfg), X3, Y3, LAV, 2.2),
    *furniture(0, 1, o3, titles[2], sources[2], [("Growth rate (% y/y 3mma)", 70, 434, "left")]),
).properties(width=279, height=162)

# ---------------- Figure 4 ----------------
o4 = (ORIGIN_X[1], 448.3)
x4args = (2014.496, 2024.6, range(2015, 2024, 2))
X4 = xenc(*x4args)
Y4 = yenc(-60, 60, range(-60, 61, 20), offset=-8.4)
fig4 = alt.layer(
    zero_rule(Y4, "#A0A0A0", 1, span=(2014.79, 2024.6), xargs=x4args),
    *legend(legend4, [(NAVY, "line"), (GREEN, "line"), (RED, "line")],
            o4, 484, 510, 512, 449, 11.4, 9.7),
    line(pts(prop_investment), X4, Y4, NAVY, 2.3),
    line(pts(prop_started), X4, Y4, GREEN, 2.3),
    line(pts(prop_sold), X4, Y4, RED, 2.3),
    *furniture(1, 1, o4, titles[3], sources[3], [("Growth rate (% y/y 3mma)", 419, 435, "left")]),
).properties(width=288, height=168)

# ---------------- Figure 5 ----------------
o5 = (ORIGIN_X[0], 760)
X5 = xenc(2015.0, 2024.5, range(2015, 2025))
Y5 = yenc(-8, 24, range(-8, 25, 4))
fig5 = alt.layer(
    alt.Chart(months(cpi_headline, 2015, 1)).mark_bar(size=1.6, color=GREEN).encode(
        x=X5, y=Y5, y2=alt.datum(0)),
    zero_rule(Y5, "#000000", 1.5),
    *legend(legend5, [(GREEN, "bar"), (YELLOW, "line"), (NAVY, "line"), (RED, "dot")],
            o5, 159, 192, 195, 781.7, 12.6, 9.5),
    line(pts(cpi_nonfood), X5, Y5, YELLOW, 2),
    line(pts(cpi_food), X5, Y5, NAVY, 2.5),
    line(pts(ppi), X5, Y5, RED, 2, [2.5, 3]),
    *furniture(0, 2, o5, titles[4], sources[4], [("Growth rate (% y/y)", 71, 746, "left")]),
).properties(width=286, height=172)

# ---------------- Figure 6 ----------------
o6 = (ORIGIN_X[1], 767.3)
X6 = xenc(2018.95, 2024.65, range(2019, 2025), expr="'1/' + (datum.value - 2000)")
Y6 = yenc(-50, 60, range(-50, 61, 10), offset=-1)
fig6 = alt.layer(
    alt.Chart(pts(ubs_activity)).mark_area(interpolate="step-after", color=GREEN).encode(
        x=X6, y=Y6, y2=alt.datum(0)),
    zero_rule(Y6, "#404040", 1),
    *legend(legend6, [(GREEN, "bar"), (NAVY, "line"), (RED, "line")],
            o6, 450, 478, 480, 767.7, 14.5, 9.6),
    line(pts(consumption_serv), X6, Y6, RED, 1.6),
    line(pts(industry_inv), X6, Y6, NAVY, 1.6),
    *furniture(1, 2, o6, titles[5], sources[5], [("Growth (%y/y, 10-day, CNY adjusted)", 419, 742, "left")]),
).properties(width=290, height=155)

# ---------------- Footer (origin shared with the left column) ----------------
fx = ORIGIN_X[0]
footer = alt.layer(
    hrule(62 - fx, 752 - fx, 0, "#3A3A3A", 1),
    note("China Economic Perspectives", 62 - fx, 11, size=11.4, weight="bold", color="#111"),
    note("22 August 2024", 222 - fx, 11, size=11.4, color="#111"),
    note("UBS", 742 - fx, 11, size=12, weight="bold", align="right", font="Liberation Serif", color="#111"),
    note("2", 752 - fx, 11, size=11.4, align="right", color="#111"),
).properties(width=600, height=14)

left_col = alt.concat(spacer(), fig1, fig3, fig5, columns=1, spacing=GAP, align="none")
right_col = alt.concat(spacer(), fig2, fig4, fig6, columns=1, spacing=GAP, align="none")
top = alt.hconcat(left_col, right_col, spacing=20)
chart = alt.vconcat(top, footer, spacing=107).properties(
    padding={"left": 54, "top": TITLE_TOP[0] - 1 - GAP - 8, "right": 5, "bottom": 5},
    background="white",
).configure_view(stroke=None)

chart.save("out.html", embed_options={"renderer": "svg", "actions": False})
